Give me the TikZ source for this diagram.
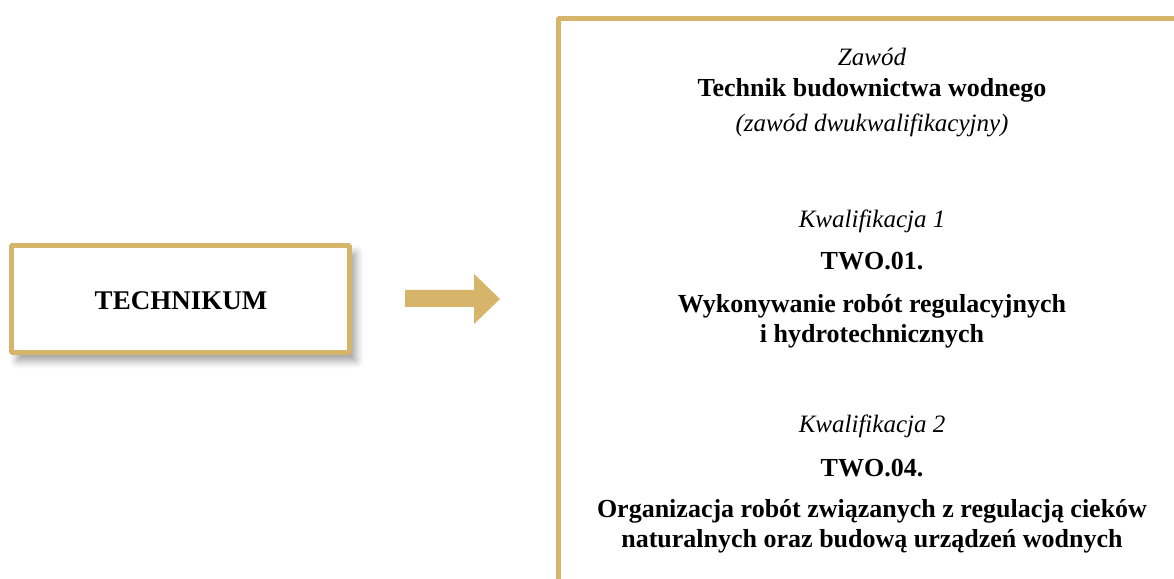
\documentclass[tikz,border=0pt]{standalone}
\usepackage{fontspec}
\setmainfont{Liberation Serif}
\usetikzlibrary{shapes,shadows.blur}
\definecolor{zloty}{RGB}{214,180,106}

\begin{document}
\begin{tikzpicture}[>=latex,line join=bevel,
  ramka/.style={draw=zloty,line width=5bp,fill=white,inner sep=0pt},
  kursywa/.style={anchor=base,inner sep=0pt,font=\fontsize{25bp}{30bp}\itshape},
  gruby/.style={anchor=base,inner sep=0pt,font=\fontsize{26bp}{30bp}\bfseries}]
  \clip (0bp,0bp) rectangle (1174bp,579bp);
%%
  % Node: technikum
  \node[ramka,minimum width=338bp,minimum height=107bp,
        blur shadow={shadow xshift=6bp,shadow yshift=-8bp,shadow blur radius=8bp,shadow opacity=40}]
        (technikum) at (180.5bp,280bp) {};
  \node[gruby,font=\fontsize{27bp}{30bp}\bfseries] (tnapis) at (181bp,269bp) {TECHNIKUM};
  % Arrow
  \fill[zloty] (405bp,272bp) -- (474bp,272bp) -- (474bp,255bp) -- (500bp,280bp)
    -- (474bp,305bp) -- (474bp,289bp) -- (405bp,289bp) -- cycle;
  % Node: zawod
  \node[ramka,anchor=north west,minimum width=700bp,minimum height=600bp] (zawod) at (556bp,563bp) {};
  \node[kursywa] (z1) at (872bp,513bp) {Zawód};
  \node[gruby]   (z2) at (872bp,482bp) {Technik budownictwa wodnego};
  \node[kursywa] (z3) at (872bp,447bp) {(zawód dwukwalifikacyjny)};
  % Node: kwalifikacja 1
  \node[kursywa] (k1) at (872bp,351bp) {Kwalifikacja 1};
  \node[gruby]   (k1a) at (872bp,309bp) {TWO.01.};
  \node[gruby]   (k1b) at (872bp,266bp) {Wykonywanie robót regulacyjnych};
  \node[gruby]   (k1c) at (872bp,236bp) {i hydrotechnicznych};
  % Node: kwalifikacja 2
  \node[kursywa] (k2) at (872bp,146bp) {Kwalifikacja 2};
  \node[gruby]   (k2a) at (872bp,102bp) {TWO.04.};
  \node[gruby]   (k2b) at (872bp,61bp) {Organizacja robót związanych z regulacją cieków};
  \node[gruby]   (k2c) at (872bp,32bp) {naturalnych oraz budową urządzeń wodnych};
%
\end{tikzpicture}
\end{document}
